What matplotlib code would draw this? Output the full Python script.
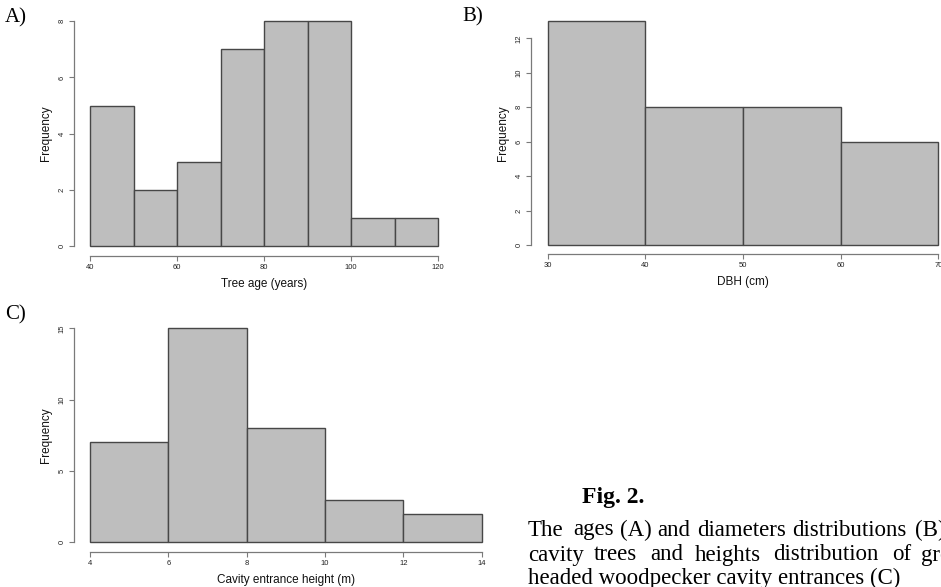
import numpy as np
import matplotlib
matplotlib.use("Agg")
import matplotlib.pyplot as plt

# ---- data ----
age_edges = [40, 50, 60, 70, 80, 90, 100, 110, 120]
age_counts = [5, 2, 3, 7, 8, 8, 1, 1]
age_yticks = [0, 2, 4, 6, 8]
age_xticks = [40, 60, 80, 100, 120]

dbh_edges = [30, 40, 50, 60, 70]
dbh_counts = [13, 8, 8, 6]
dbh_yticks = [0, 2, 4, 6, 8, 10, 12]
dbh_xticks = [30, 40, 50, 60, 70]

cav_edges = [4, 6, 8, 10, 12, 14]
cav_counts = [7, 15, 8, 3, 2]
cav_yticks = [0, 5, 10, 15]
cav_xticks = [4, 6, 8, 10, 12, 14]

W, H = 941, 587
fig = plt.figure(figsize=(W / 100, H / 100), dpi=100)
fig.patch.set_facecolor("white")

SANS = "Liberation Sans"
SERIF = "Liberation Serif"
BAR = "#bebebe"
EDGE = "#474747"
AX = "#7a7a7a"


def px_axes(x0, x1, ytop, ybot):
    return fig.add_axes([x0 / W, (H - ybot) / H, (x1 - x0) / W, (ybot - ytop) / H])


def hist_panel(ax, edges, counts, xlim, ylim, xticks, yticks, xlabel,
               left_off, bottom_off):
    edges = np.asarray(edges, dtype=float)
    ax.bar(edges[:-1], counts, width=np.diff(edges), align="edge",
           color=BAR, edgecolor=EDGE, linewidth=1.0, clip_on=False)
    ax.set_xlim(*xlim)
    ax.set_ylim(*ylim)
    for s in ["top", "right"]:
        ax.spines[s].set_visible(False)
    ax.spines["left"].set_position(("outward", left_off * 0.72))
    ax.spines["bottom"].set_position(("outward", bottom_off * 0.72))
    ax.spines["left"].set_bounds(yticks[0], yticks[-1])
    ax.spines["bottom"].set_bounds(xticks[0], xticks[-1])
    for s in ["left", "bottom"]:
        ax.spines[s].set_color(AX)
        ax.spines[s].set_linewidth(0.9)
    ax.set_xticks(xticks)
    ax.set_yticks(yticks)
    ax.set_xticklabels([str(t) for t in xticks], fontsize=5.5, family=SANS)
    ax.set_yticklabels([str(t) for t in yticks], fontsize=5.5, family=SANS,
                       rotation=90, va="center")
    ax.tick_params(axis="both", length=3.5, width=0.8, color=AX,
                   labelcolor="#222222", pad=2.5)
    ax.set_xlabel(xlabel, fontsize=8.5, family=SANS, labelpad=5, color="#111111")
    ax.set_ylabel("Frequency", fontsize=8.5, family=SANS, labelpad=5, color="#111111")
    ax.set_facecolor("none")


# Panel A
axA = px_axes(90.3, 438, 21.3, 246)
hist_panel(axA, age_edges, age_counts, (40, 120), (0, 8), age_xticks, age_yticks,
           "Tree age (years)", 16.3, 10)

# Panel B
axB = px_axes(547.7, 938.3, 21.0, 245.3)
hist_panel(axB, dbh_edges, dbh_counts, (30, 70), (0, 13), dbh_xticks, dbh_yticks,
           "DBH (cm)", 16.7, 8.7)

# Panel C
axC = px_axes(90, 481.7, 328.3, 542.3)
hist_panel(axC, cav_edges, cav_counts, (4, 14), (0, 15), cav_xticks, cav_yticks,
           "Cavity entrance height (m)", 16, 9.4)

# Panel letters
def ftext(x, y, s, **kw):
    fig.text(x / W, 1 - y / H, s, **kw)

ftext(5, 18, "A)", fontsize=15, family=SERIF, va="center", ha="left")
ftext(462, 17, "B)", fontsize=15, family=SERIF, va="center", ha="left")
ftext(5, 315, "C)", fontsize=15, family=SERIF, va="center", ha="left")

# Caption
ftext(582, 498, "Fig. 2.", fontsize=17, family=SERIF, weight="bold",
      va="center", ha="left")
line1 = [("The", 528), ("ages", 573), ("(A)", 620), ("and", 657), ("diameters", 697),
         ("distributions", 792), ("(B)", 915)]
line2 = [("cavity", 528), ("trees", 594), ("and", 650), ("heights", 695),
         ("distribution", 773), ("of", 892), ("gre", 921)]
line3 = [("headed woodpecker cavity entrances (C)", 528)]
for words, yc in [(line1, 530), (line2, 555), (line3, 578)]:
    for w, x in words:
        ftext(x, yc, w, fontsize=16.5, family=SERIF, va="center", ha="left")

fig.savefig("out.png", dpi=100, facecolor="white")
